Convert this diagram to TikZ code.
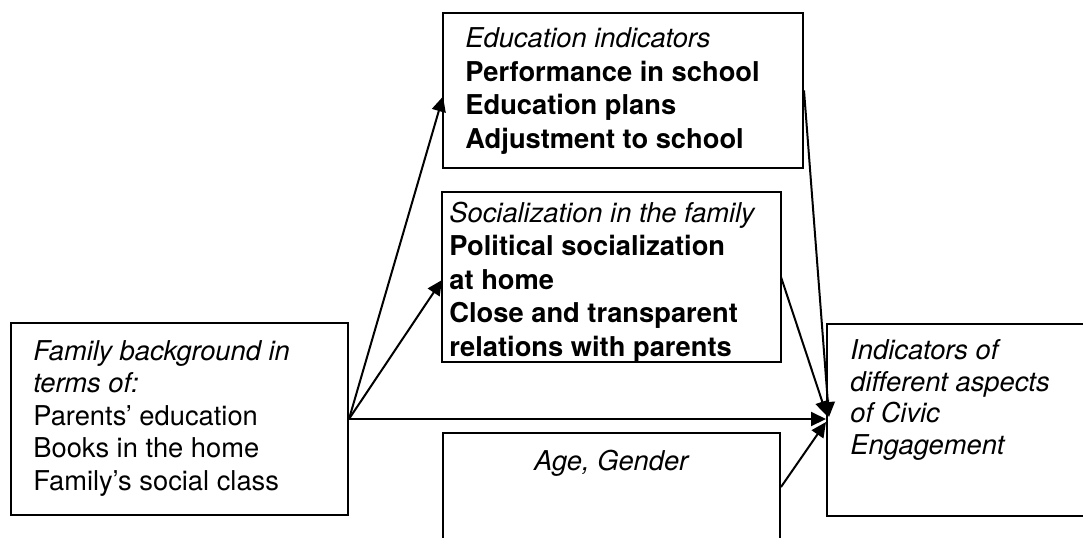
\documentclass[tikz,border=0pt]{standalone}
\usepackage{fontspec}
\setmainfont{TeX Gyre Heros}
\usetikzlibrary{arrows.meta,calc}
\begin{document}
\begin{tikzpicture}[x=0.5pt,y=-0.5pt,
  box/.style={draw=black,line width=1pt,fill=white,rectangle,inner sep=0pt},
  txt/.style={inner sep=0pt,align=left,font=\fontsize{13.65}{16.7}\selectfont},
  txtb/.style={inner sep=0pt,align=left,font=\fontsize{13.65}{16.25}\selectfont},
  txtc/.style={inner sep=0pt,align=left,font=\fontsize{13.65}{15.7}\selectfont},
  link/.style={line width=1pt,-{Triangle[length=7.5pt,width=7pt]}}]
\useasboundingbox (0,0) rectangle (1083,537);
\clip (0,0) rectangle (1083,537);

% boxes
\node[box,minimum width=168.5pt,minimum height=96pt] (fam) at (179.5,419) {};
\node[box,minimum width=180pt,minimum height=77.5pt] (edu) at (623,90.5) {};
\node[box,draw=none,minimum width=168.5pt,minimum height=84pt] (soc) at (611.5,277) {};
\node[box,minimum width=168.5pt,minimum height=54pt] (age) at (611.5,487) {};
\node[box,minimum width=136.5pt,minimum height=96pt] (civ) at (963.5,420) {};

% texts (anchored at the baseline of their last line)
\node[txtb,anchor=base west] (famtxt) at (33,490)
  {\textit{Family background in}\\\textit{terms of:}\\Parents’ education\\Books in the home\\Family’s social class};
\node[txt,anchor=base west] (edutxt) at (465,148)
  {\textit{Education indicators}\\\textbf{Performance in school}\\\textbf{Education plans}\\\textbf{Adjustment to school}};
\begin{scope}
  \clip (soc.north west) rectangle (soc.south east);
  \node[txt,anchor=base west] (soctxt) at (449,356)
    {\textit{Socialization in the family}\\\textbf{Political socialization}\\\textbf{at home}\\\textbf{Close and transparent}\\\textbf{relations with parents}};
\end{scope}
\draw[line width=1pt] (soc.north west) rectangle (soc.south east);
\node[txt,anchor=base] (agetxt) at (612,470) {\textit{Age, Gender}};
\node[txtc,anchor=base west] (civtxt) at (850,454)
  {\textit{Indicators of}\\\textit{different aspects}\\\textit{of Civic}\\\textit{Engagement}};

% connectors
\draw[link] (fam.east) -- ($(edu.west)+(1,6)$);
\draw[link] (fam.east) -- ($(soc.west)+(0,3)$);
\draw[link] (fam.east) -- (fam.east -| civ.west);
\draw[link] (edu.east) -- ($(civ.west)+(3,-3)$);
\draw[link] (soc.east) -- ($(civ.west)+(1,-4)$);
\draw[link] (age.east) -- ($(civ.west)+(0,2)$);
\end{tikzpicture}
\end{document}
